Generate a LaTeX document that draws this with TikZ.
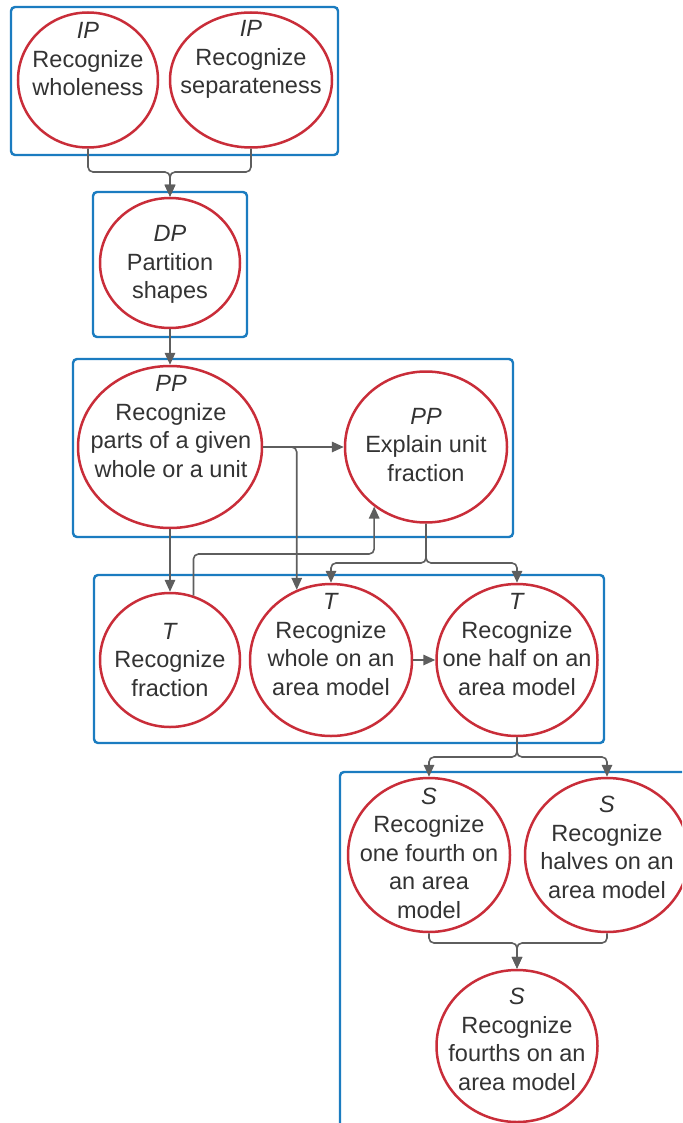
\documentclass[tikz,border=0pt]{standalone}
\usepackage{fontspec}
\setmainfont{Liberation Sans}
\usetikzlibrary{arrows.meta,calc,shapes.geometric}
\definecolor{boxblue}{HTML}{1B7CC0}
\definecolor{circred}{HTML}{C92D39}
\definecolor{conngray}{HTML}{5E5E5E}
\definecolor{txtgray}{HTML}{333333}
\begin{document}
\begin{tikzpicture}[x=1pt,y=-1pt,
 grp/.style={draw=boxblue, line width=2.4pt, rounded corners=4pt},
 circ/.style={ellipse, draw=circred, line width=2.5pt, inner sep=0pt},
 lbl/.style={align=center, text=txtgray, inner sep=0pt, font=\fontsize{23.5pt}{28.5pt}\selectfont},
 conn/.style={draw=conngray, line width=1.6pt, rounded corners=5pt, -{Triangle[length=12pt,width=10.5pt]}},
]
\clip (0,0) rectangle (682,1123);
\fill[white] (0,0) rectangle (682,1123);

% group boxes
\draw[grp] (11,7) rectangle (338,155);
\draw[grp] (93,192) rectangle (247,337);
\draw[grp] (73,359) rectangle (513,537);
\draw[grp] (94,575) rectangle (604,743);
\draw[grp] (340,772) rectangle (720,1160);

% circles
\node[circ, minimum width=140pt, minimum height=135pt] (ip1) at (88,80) {};
\node[circ, minimum width=162pt, minimum height=135pt] (ip2) at (251,80) {};
\node[circ, minimum width=140pt, minimum height=130pt] (dp) at (170,263) {};
\node[circ, minimum width=184pt, minimum height=162pt] (pp1) at (170,447) {};
\node[circ, minimum width=162pt, minimum height=151pt] (pp2) at (426,447) {};
\node[circ, minimum width=140pt, minimum height=134pt] (t1) at (170,660) {};
\node[circ, minimum width=162pt, minimum height=152pt] (t2) at (331,660) {};
\node[circ, minimum width=161pt, minimum height=152pt] (t3) at (517,660) {};
\node[circ, minimum width=162pt, minimum height=154pt] (s1) at (429,855) {};
\node[circ, minimum width=164pt, minimum height=154pt] (s2) at (607,855) {};
\node[circ, minimum width=161pt, minimum height=152pt] (s3) at (517,1046) {};

% texts
\node[lbl] (ip1t) at (88,59.5) {\textit{IP}\\Recognize\\wholeness};
\node[lbl] (ip2t) at (251,59.5) {\textit{IP}\\Recognize\\separateness};
\node[lbl] (dpt) at (170,264.5) {\textit{DP}\\Partition\\shapes};
\node[lbl] (pp1t) at (171,426.5) {\textit{PP}\\Recognize\\parts of a given\\whole or a unit};
\node[lbl] (pp2t) at (426,445) {\textit{PP}\\Explain unit\\fraction};
\node[lbl] (t1t) at (170,660) {\textit{T}\\Recognize\\fraction};
\node[lbl] (t2t) at (331,644.5) {\textit{T}\\Recognize\\whole on an\\area model};
\node[lbl] (t3t) at (517,644.5) {\textit{T}\\Recognize\\one half on an\\area model};
\node[lbl] (s1t) at (429,853) {\textit{S}\\Recognize\\one fourth on\\an area\\model};
\node[lbl] (s2t) at (607,847.5) {\textit{S}\\Recognize\\halves on an\\area model};
\node[lbl] (s3t) at (517,1039.5) {\textit{S}\\Recognize\\fourths on an\\area model};

% helper coordinates
\coordinate (j1) at (170,172);
\coordinate (h1) at (0,554);
\coordinate (h2) at (0,563);
\coordinate (h3) at (0,757);
\coordinate (h4) at (0,943);

% connectors
\draw[conn] (ip1.south) |- (j1) -- (dp.north);
\draw[conn] (ip2.south) |- (j1) -- (dp.north);
\draw[conn] (dp.south) -- (pp1.north);
\draw[conn] (pp1.east) -- (pp2.west);
\draw[conn] (pp1.east) -| (t2.116);
\draw[conn] (pp1.south) -- (t1.north);
\draw[conn] (t1.70) |- (pp2.229 |- h1) -- (pp2.229);
\draw[conn] (pp2.south) -- (pp2.south |- h2) -| (t2.north);
\draw[conn] (pp2.south) -- (pp2.south |- h2) -| (t3.north);
\draw[conn] (t2.east) -- (t3.west);
\draw[conn] (t3.south) -- (t3.south |- h3) -| (s1.north);
\draw[conn] (t3.south) -- (t3.south |- h3) -| (s2.north);
\draw[conn] (s1.south) |- (s3.north |- h4) -- (s3.north);
\draw[conn] (s2.south) |- (s3.north |- h4) -- (s3.north);
\end{tikzpicture}
\end{document}
